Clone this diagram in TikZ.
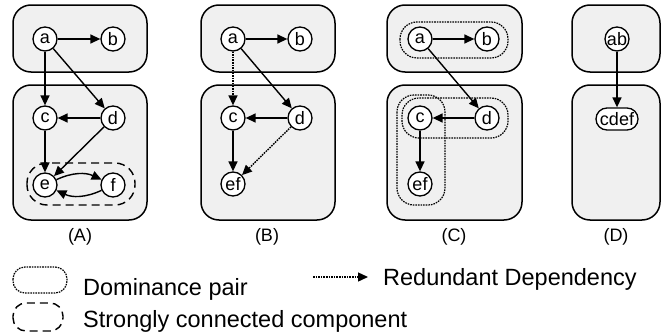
\documentclass[tikz,border=0pt]{standalone}
\usepackage{fontspec}
\setmainfont{Liberation Sans}
\colorlet{GroupFill}{black!6}
\usetikzlibrary{arrows.meta, positioning}

\tikzset{
  group/.style={draw, fill=GroupFill, line width=1.5pt, rounded corners=18pt},
  vertex/.style={draw, circle, fill=white, line width=1.3pt, minimum size=24pt,
                 inner sep=0pt, font=\fontsize{18}{20}\selectfont},
  dep/.style={-{Triangle[length=10pt,width=9pt]}, line width=1.4pt},
  redundant/.style={dep, dash pattern=on 1.6pt off 1pt},
  dompair/.style={draw, line width=1.2pt, dash pattern=on 1.6pt off 1pt, rounded corners=17pt},
  scc/.style={draw, line width=1.4pt, dash pattern=on 8pt off 5pt, rounded corners=20pt},
  caption/.style={font=\fontsize{18}{20}\selectfont},
  legend/.style={font=\fontsize{23.5}{26}\selectfont, anchor=base west, inner sep=0pt}
}

\begin{document}
\begin{tikzpicture}[x=1pt, y=-1pt]
\useasboundingbox (0,0) rectangle (665,332);

% (A) original graph
\draw[group] (13,5) rectangle (147,72);
\draw[group] (13,85) rectangle (147,220);
\draw[scc] (27,163) rectangle (135,205);
\node[vertex] (a1) at (45,39) {a};
\node[vertex] (b1) at (113,39) {b};
\node[vertex] (c1) at (45,118) {c};
\node[vertex] (d1) at (113,118) {d};
\node[vertex] (e1) at (45,185) {e};
\node[vertex] (f1) at (113,185) {f};
\draw[dep] (a1) -- (b1);
\draw[dep] (a1) -- (c1);
\draw[dep] (a1) -- (d1);
\draw[dep] (d1) -- (c1);
\draw[dep] (c1) -- (e1);
\draw[dep] (d1) -- (e1);
\draw[dep] (e1) to[bend left=25] (f1);
\draw[dep] (f1) to[bend left=25] (e1);
\node[caption] (capA) at (80,237) {(A)};

% (B) e and f merged
\draw[group] (201,5) rectangle (335,72);
\draw[group] (201,85) rectangle (335,220);
\node[vertex] (a2) at (233,39) {a};
\node[vertex] (b2) at (300,39) {b};
\node[vertex] (c2) at (233,118) {c};
\node[vertex] (d2) at (300,118) {d};
\node[vertex] (ef2) at (233,184) {ef};
\draw[dep] (a2) -- (b2);
\draw[redundant] (a2) -- (c2);
\draw[dep] (a2) -- (d2);
\draw[dep] (d2) -- (c2);
\draw[dep] (c2) -- (ef2);
\draw[redundant] (d2) -- (ef2);
\node[caption] (capB) at (267,237) {(B)};

% (C) dominance pairs
\draw[group] (387,5) rectangle (522,72);
\draw[group] (387,85) rectangle (522,220);
\draw[dompair] (400,22) rectangle (508,58);
\draw[dompair] (402,98) rectangle (508,138);
\draw[dompair] (397,95) rectangle (445,205);
\node[vertex] (a3) at (420,39) {a};
\node[vertex] (b3) at (487,39) {b};
\node[vertex] (c3) at (420,118) {c};
\node[vertex] (d3) at (487,118) {d};
\node[vertex] (ef3) at (420,184) {ef};
\draw[dep] (a3) -- (b3);
\draw[dep] (a3) -- (d3);
\draw[dep] (d3) -- (c3);
\draw[dep] (c3) -- (ef3);
\node[caption] (capC) at (454,237) {(C)};

% (D) collapsed
\draw[group] (572,5) rectangle (660,72);
\draw[group] (572,85) rectangle (660,220);
\node[vertex] (ab4) at (617,39) {ab};
\node[vertex, rectangle, rounded corners=11pt, minimum height=22pt, inner xsep=4pt]
  (cdef4) at (617,119) {cdef};
\draw[dep] (ab4) -- (cdef4);
\node[caption] (capD) at (616,237) {(D)};

% legend
\draw[dompair, rounded corners=12pt] (13,267) rectangle (67,293);
\node[legend] (domtext) at (83,295) {Dominance pair};
\draw[scc, rounded corners=13pt] (13,303) rectangle (63,331);
\node[legend] (scctext) at (83,327) {Strongly connected component};
\coordinate (redfrom) at (313,277);
\coordinate (redto) at (368,277);
\draw[redundant] (redfrom) -- (redto);
\node[legend] (redtext) at (383,285) {Redundant Dependency};

\end{tikzpicture}
\end{document}
